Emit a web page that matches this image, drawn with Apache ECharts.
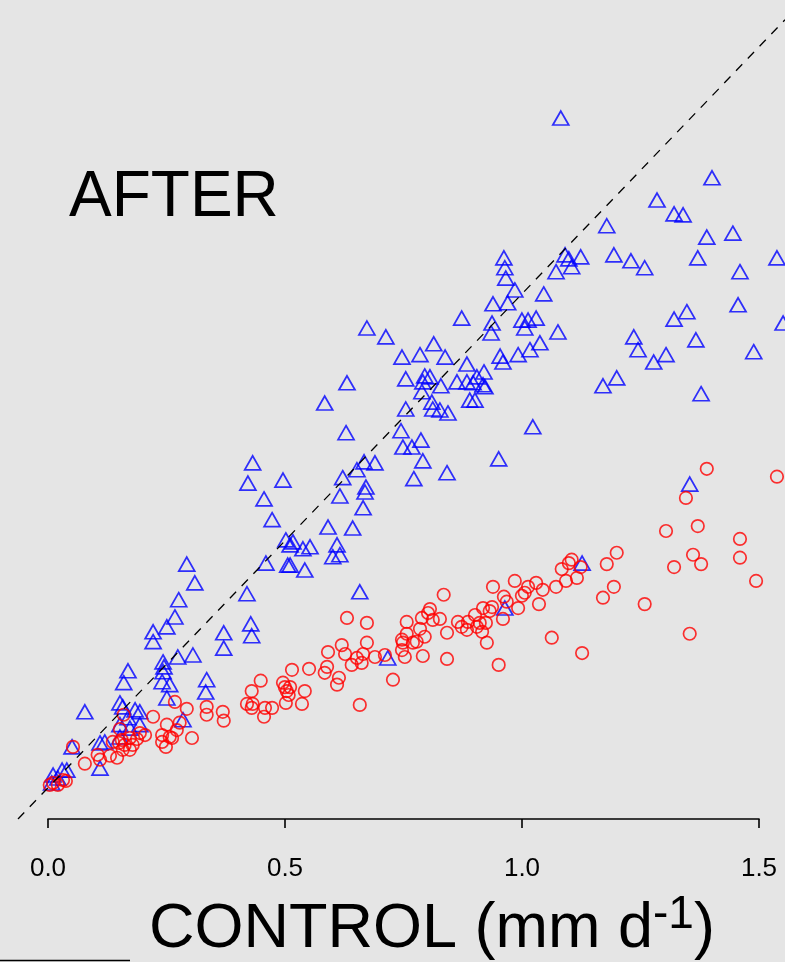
<!DOCTYPE html>
<html><head><meta charset="utf-8">
<script src="https://cdn.jsdelivr.net/npm/echarts@6/dist/echarts.min.js"></script>
<style>html,body{margin:0;padding:0;background:#e5e5e5;} #c{width:785px;height:962px;}</style>
</head><body><div id="c"></div>
<script>
// Tick labels of the CONTROL axis
const xTicks = [0.0, 0.5, 1.0, 1.5];

// Blue triangles: CONTROL (x) vs AFTER (y), mm d-1
const blueX = [1.082,1.401,1.285,1.321,1.340,1.179,1.390,1.445,1.091,1.099,
1.124,1.105,1.072,1.194,1.230,1.259,1.371,1.460,1.538,1.046,
1.076,1.038,1.456,1.321,1.348,1.236,1.245,1.278,1.304,1.367,
1.489,1.551,1.200,1.171,1.378,1.354,1.127,1.023,0.962,0.964,
0.966,0.985,0.939,0.970,0.873,0.673,0.713,0.937,0.935,1.000,
1.013,1.030,1.006,1.017,0.992,0.954,0.960,0.814,0.785,0.747,
0.838,0.884,0.755,0.795,0.806,0.791,0.829,0.789,0.863,0.884,
0.905,0.920,0.918,0.897,0.922,0.631,0.584,0.810,0.812,0.827,
0.844,0.890,0.901,0.755,0.629,0.745,0.749,0.768,0.787,0.791,
0.951,0.667,0.690,0.652,0.622,0.772,0.842,0.671,0.669,0.616,
0.665,0.591,0.643,0.610,0.616,0.601,0.511,0.517,0.502,0.538,
0.553,0.511,0.542,0.658,0.717,0.964,0.432,0.422,0.496,0.456,
0.473,0.460,0.506,0.420,0.293,0.310,0.276,0.268,0.251,0.222,
0.222,0.428,0.430,0.371,0.371,0.243,0.274,0.306,0.245,0.169,
0.160,0.243,0.241,0.257,0.251,0.335,0.333,0.285,0.078,0.152,
0.158,0.184,0.194,0.169,0.152,0.173,0.110,0.110,0.120,0.051,
0.011,0.030,0.040,0.008,0.021,0.152,0.194];
const blueY = [1.356,1.235,1.190,1.162,1.160,1.138,1.115,1.123,1.079,1.071,
1.075,1.055,1.045,1.079,1.067,1.053,1.073,1.045,1.073,1.000,
0.923,0.901,0.978,0.949,0.964,0.913,0.887,0.862,0.877,0.907,
0.883,0.941,0.830,0.814,0.798,0.615,0.455,0.731,1.073,1.053,
1.032,1.008,0.980,0.982,0.951,0.931,0.913,0.941,0.921,0.947,
0.947,0.951,0.931,0.887,0.877,0.874,0.862,0.899,0.877,0.872,
0.872,0.858,0.828,0.834,0.832,0.822,0.814,0.802,0.822,0.822,
0.832,0.842,0.816,0.820,0.812,0.820,0.779,0.781,0.767,0.765,
0.759,0.785,0.785,0.767,0.719,0.723,0.690,0.690,0.704,0.662,
0.666,0.660,0.658,0.644,0.628,0.626,0.638,0.609,0.599,0.591,
0.567,0.528,0.526,0.492,0.472,0.468,0.492,0.498,0.502,0.484,
0.488,0.451,0.441,0.397,0.263,0.364,0.658,0.617,0.623,0.585,
0.543,0.455,0.451,0.393,0.453,0.415,0.381,0.346,0.326,0.316,
0.296,0.332,0.308,0.314,0.283,0.255,0.265,0.269,0.245,0.237,
0.213,0.235,0.215,0.209,0.182,0.219,0.194,0.138,0.154,0.172,
0.164,0.158,0.154,0.142,0.128,0.121,0.091,0.040,0.093,0.083,
0.026,0.036,0.036,0.010,0.020,0.103,0.128];

// Red circles: CONTROL (x) vs AFTER (y), mm d-1
const redX = [1.390,1.538,1.346,1.371,1.304,1.460,1.460,1.361,1.378,1.321,
1.494,1.200,1.179,1.105,1.099,1.124,1.084,1.116,1.093,1.072,
1.044,1.030,1.013,1.006,1.000,1.194,1.171,1.259,1.036,1.063,
1.127,1.354,0.985,0.939,0.962,0.968,0.992,0.937,0.918,0.932,
0.960,0.835,0.806,0.802,0.812,0.827,0.789,0.757,0.865,0.873,
0.886,0.901,0.911,0.924,0.905,0.884,0.916,0.842,0.795,0.785,
0.770,0.749,0.747,0.753,0.791,0.926,0.842,0.951,0.631,0.673,
0.747,0.757,0.778,0.673,0.665,0.652,0.662,0.641,0.620,0.627,
0.591,0.690,0.711,0.515,0.551,0.589,0.584,0.614,0.610,0.542,
0.728,0.511,0.658,0.449,0.430,0.496,0.500,0.504,0.508,0.502,
0.536,0.420,0.432,0.430,0.458,0.473,0.456,0.369,0.371,0.335,
0.335,0.293,0.268,0.222,0.251,0.278,0.304,0.272,0.262,0.205,
0.160,0.152,0.137,0.156,0.173,0.162,0.179,0.173,0.150,0.241,
0.241,0.249,0.257,0.105,0.110,0.131,0.146,0.078,0.053,0.011,
0.032,0.004,0.021,0.038,0.194,0.188,0.158];
const redY = [0.646,0.630,0.587,0.530,0.520,0.504,0.466,0.472,0.453,0.447,
0.419,0.476,0.453,0.462,0.455,0.447,0.443,0.425,0.419,0.407,
0.401,0.415,0.407,0.395,0.389,0.407,0.385,0.372,0.372,0.304,
0.273,0.312,0.419,0.407,0.387,0.377,0.364,0.366,0.364,0.358,
0.342,0.391,0.362,0.354,0.340,0.342,0.344,0.336,0.336,0.326,
0.336,0.350,0.334,0.334,0.326,0.320,0.316,0.314,0.306,0.322,
0.294,0.294,0.279,0.265,0.267,0.294,0.261,0.249,0.344,0.334,
0.300,0.312,0.296,0.294,0.271,0.263,0.253,0.249,0.289,0.271,
0.275,0.265,0.269,0.239,0.241,0.245,0.233,0.223,0.209,0.196,
0.219,0.204,0.168,0.217,0.196,0.213,0.204,0.196,0.188,0.172,
0.170,0.170,0.170,0.162,0.162,0.162,0.144,0.154,0.136,0.164,
0.148,0.160,0.174,0.144,0.128,0.132,0.101,0.117,0.101,0.107,
0.148,0.119,0.093,0.097,0.101,0.087,0.087,0.077,0.091,0.107,
0.093,0.083,0.103,0.067,0.057,0.065,0.061,0.049,0.083,0.010,
0.016,0.006,0.006,0.014,0.111,0.099,0.077];

const FONT = '"Liberation Sans", Arial, Helvetica, sans-serif';
// visible plotting window (data units)
const xMin = -0.063, xMax = 1.555;
const yMin = -0.063, yMax = 1.595;
const zip = (a, b) => a.map((v, i) => [v, b[i]]);

const chart = echarts.init(document.getElementById('c'), null, {renderer: 'canvas'});
chart.setOption({
  backgroundColor: '#e5e5e5',
  animation: false,
  grid: [
    {left: 18, right: 0, top: 0, bottom: 143},
    {left: 48, width: 711, top: 0, bottom: 143}
  ],
  xAxis: [
    {gridIndex: 0, type: 'value', min: xMin, max: xMax, show: false},
    {gridIndex: 1, type: 'value', min: xTicks[0], max: xTicks[xTicks.length - 1], interval: 0.5,
     axisLine: {show: true, onZero: false, lineStyle: {color: '#000', width: 1.6}},
     axisTick: {show: true, inside: false, length: 9, lineStyle: {color: '#000', width: 1.6}},
     axisLabel: {show: true, margin: 37, fontSize: 26, color: '#000', fontFamily: FONT,
                 formatter: v => v.toFixed(1), showMinLabel: true, showMaxLabel: true},
     splitLine: {show: false}}
  ],
  yAxis: [
    {gridIndex: 0, type: 'value', min: yMin, max: yMax, show: false},
    {gridIndex: 1, type: 'value', show: false}
  ],
  series: [
    {type: 'line', xAxisIndex: 0, yAxisIndex: 0, silent: true, symbol: 'none',
     data: [[xMin, xMin], [xMax, xMax]],
     lineStyle: {type: [9, 8], color: '#000', width: 1.3}},
    {type: 'scatter', xAxisIndex: 0, yAxisIndex: 0, data: zip(blueX, blueY),
     symbol: 'triangle', symbolSize: [16, 14],
     itemStyle: {color: 'rgba(0,0,0,0)', borderColor: '#0000ff', borderWidth: 1.7}},
    {type: 'scatter', xAxisIndex: 0, yAxisIndex: 0, data: zip(redX, redY),
     symbol: 'circle', symbolSize: 12.5,
     itemStyle: {color: 'rgba(0,0,0,0)', borderColor: '#ff0000', borderWidth: 1.7}}
  ],
  graphic: [
    {type: 'text', left: 69, top: 166,
     style: {text: 'AFTER', fontSize: 64, fontFamily: FONT, fill: '#000'}},
    {type: 'text', left: 149, top: 892,
     style: {text: '{b|CONTROL (mm d}{s|-1}{b|)}', fill: '#000',
       rich: {
         b: {fontSize: 63, lineHeight: 76, fontFamily: FONT, fill: '#000'},
         s: {fontSize: 46, lineHeight: 46, verticalAlign: 'top', fontFamily: FONT, fill: '#000'}
       }}},
    {type: 'line', shape: {x1: 0, y1: 960.5, x2: 130, y2: 960.5},
     style: {stroke: '#000', lineWidth: 1.5}}
  ]
});
</script>
</body></html>
